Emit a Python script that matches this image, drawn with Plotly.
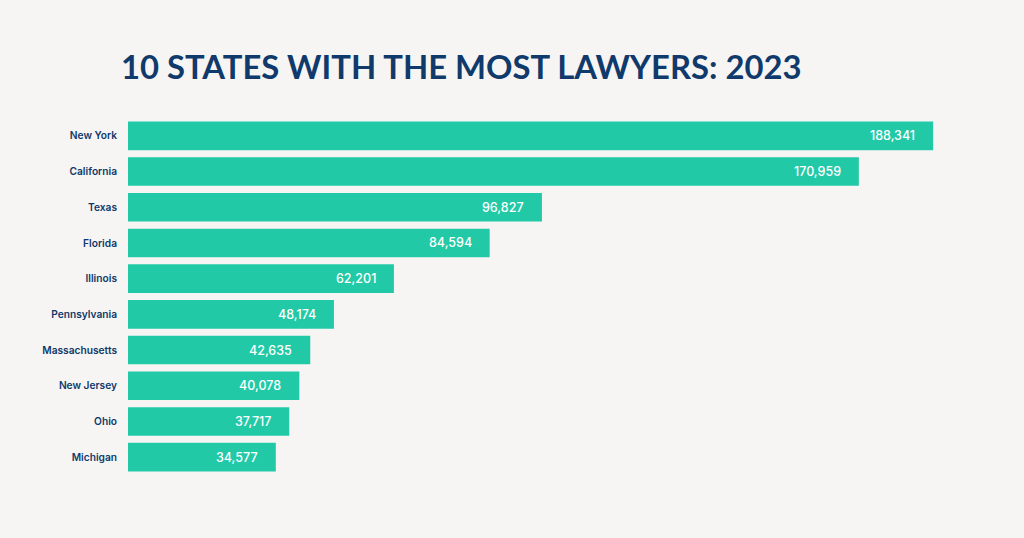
import plotly.graph_objects as go

states = ["New York", "California", "Texas", "Florida", "Illinois", "Pennsylvania",
          "Massachusetts", "New Jersey", "Ohio", "Michigan"]
lawyers = [188341, 170959, 96827, 84594, 62201, 48174, 42635, 40078, 37717, 34577]
labels = [f"{v:,}" for v in lawyers]

BG = "#f7f5f3"
BAR = "#22c9a6"
NAVY = "#0f3a6b"

fig = go.Figure(go.Bar(
    x=lawyers, y=states, orientation="h",
    marker=dict(color=BAR, line=dict(width=0)),
    hoverinfo="skip",
))

for s, v, t in zip(states, lawyers, labels):
    fig.add_annotation(x=v, y=s, text=t, showarrow=False, xanchor="right",
                       xshift=-16, yshift=0,
                       font=dict(family="Inter", size=12.5, color="white", weight=500))

fig.update_layout(
    width=1024, height=538,
    paper_bgcolor=BG, plot_bgcolor=BG,
    margin=dict(l=128, r=41, t=118, b=63),
    bargap=0.2,
    showlegend=False,
    title=dict(text="<b>10 STATES WITH THE MOST LAWYERS: 2023</b>",
               x=121/1024, xanchor="left", y=1-68/538, yanchor="middle",
               font=dict(family="Lato", size=32.8, color=NAVY, weight=900)),
    xaxis=dict(range=[0, 200000], visible=False, fixedrange=True),
    yaxis=dict(autorange="reversed", showgrid=False, zeroline=False, showline=False,
               ticks="", ticklabelstandoff=10,
               tickfont=dict(family="Inter", size=10.2, color=NAVY, weight=600)),
)

fig.write_html("out.html", config={"displayModeBar": False},
               post_script="document.body.style.margin='0';document.body.style.background='%s';" % BG)
